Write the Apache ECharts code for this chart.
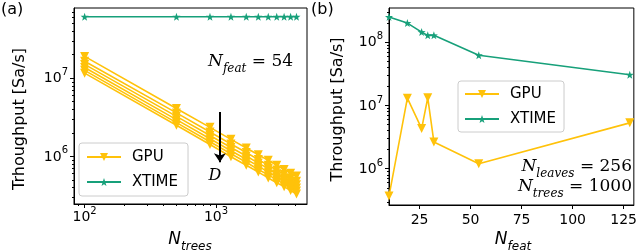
<!DOCTYPE html>
<html><head><meta charset="utf-8">
<script src="https://cdn.jsdelivr.net/npm/echarts@6/dist/echarts.min.js"></script>
<style>html,body{margin:0;padding:0;background:#fff}#c{width:640px;height:250px}</style>
</head><body><div id="c"></div>
<script>
// ---- data: panel (a) ----
const nTrees = [100, 500, 900, 1300, 1700, 2100, 2500, 2900, 3300, 3700, 4100];
const xtimeTrees = [6.1e7, 6.1e7, 6.1e7, 6.1e7, 6.1e7, 6.1e7, 6.1e7, 6.1e7, 6.1e7, 6.1e7, 6.1e7];
const gpuTreesD1 = [1.9e7, 4.1e6, 2.35e6, 1.65e6, 1.28e6, 1.05e6, 8.9e5, 7.7e5, 6.8e5, 6.1e5, 5.6e5];
const gpuTreesD2 = [1.65e7, 3.6e6, 2.05e6, 1.44e6, 1.12e6, 9.1e5, 7.7e5, 6.7e5, 5.9e5, 5.3e5, 4.8e5];
const gpuTreesD3 = [1.5e7, 3.25e6, 1.85e6, 1.3e6, 1.01e6, 8.2e5, 7.0e5, 6.0e5, 5.3e5, 4.8e5, 4.35e5];
const gpuTreesD4 = [1.37e7, 2.95e6, 1.68e6, 1.18e6, 9.2e5, 7.5e5, 6.3e5, 5.5e5, 4.85e5, 4.35e5, 3.95e5];
const gpuTreesD5 = [1.26e7, 2.7e6, 1.54e6, 1.08e6, 8.4e5, 6.8e5, 5.8e5, 5.0e5, 4.45e5, 4.0e5, 3.6e5];
const gpuTreesD6 = [1.16e7, 2.5e6, 1.42e6, 9.9e5, 7.7e5, 6.3e5, 5.3e5, 4.6e5, 4.1e5, 3.65e5, 3.3e5];
const xTicksA = [100, 1000];
const xMinorA = [90, 200, 300, 400, 500, 600, 700, 800, 900, 2000, 3000, 4000];
const yTicksA = [1e6, 1e7];
const yMinorA = [3e5, 4e5, 5e5, 6e5, 7e5, 8e5, 9e5, 2e6, 3e6, 4e6, 5e6, 6e6, 7e6, 8e6, 9e6, 2e7, 3e7, 4e7, 5e7, 6e7, 7e7];
// ---- data: panel (b) ----
const nFeat = [10, 19, 26, 29, 32, 54, 128];
const xtimeFeat = [2.5e8, 2.0e8, 1.44e8, 1.28e8, 1.28e8, 6.2e7, 3.05e7];
const gpuFeat = [3.7e5, 1.3e7, 4.3e6, 1.32e7, 2.65e6, 1.2e6, 5.3e6];
const xTicksB = [25, 50, 75, 100, 125];
const yTicksB = [1e6, 1e7, 1e8];
const yMinorB = [3e5, 4e5, 5e5, 6e5, 7e5, 8e5, 9e5, 2e6, 3e6, 4e6, 5e6, 6e6, 7e6, 8e6, 9e6, 2e7, 3e7, 4e7, 5e7, 6e7, 7e7, 8e7, 9e7, 2e8, 3e8];

const FONT = 'DejaVu Sans';
const SERIF = 'DejaVu Serif';
const GOLD = '#ffc20a';
const TEAL = '#17a07a';
const STAR = 'path://M0,-10L2.35,-3.24L9.51,-3.09L3.8,1.24L5.88,8.09L0,4L-5.88,8.09L-3.8,1.24L-9.51,-3.09L-2.35,-3.24Z';

const pairs = (xs, ys) => xs.map((x, i) => [x, ys[i]]);
const logLabel = (margin, ticks) => ({
  margin, customValues: ticks,
  formatter: v => '{b|10}{e|' + Math.round(Math.log10(v)) + '}',
  rich: {
    b: {fontSize: 14, fontFamily: FONT, color: '#000', lineHeight: 15, verticalAlign: 'bottom'},
    e: {fontSize: 10, fontFamily: FONT, color: '#000', lineHeight: 10, padding: [0, 0, 8, 0], verticalAlign: 'bottom'}
  }
});
const axLine = {show: true, lineStyle: {color: '#000', width: 1}};
function mainLog(gridIndex, min, max, ticks, margin, pos) {
  return {type: 'log', logBase: 10, gridIndex, min, max, position: pos,
    axisLine: axLine, splitLine: {show: false},
    axisTick: {show: true, inside: false, length: 4, customValues: ticks, lineStyle: {color: '#000'}},
    axisLabel: logLabel(margin, ticks)};
}
function minorLog(gridIndex, min, max, ticks, pos) {
  return {type: 'log', logBase: 10, gridIndex, min, max, position: pos,
    axisLine: {show: false}, splitLine: {show: false}, axisLabel: {show: false},
    axisTick: {show: true, inside: false, length: 2, customValues: ticks, lineStyle: {color: '#000'}}};
}
const lineStyleGpu = {color: GOLD, width: 1.6};
function gpuSeries(ys, xi, yi, extra) {
  return Object.assign({type: 'line', name: 'GPU', xAxisIndex: xi, yAxisIndex: yi,
    data: pairs(xi === 0 ? nTrees : nFeat, ys), symbol: 'triangle', symbolRotate: 180,
    symbolSize: 9, showAllSymbol: true, itemStyle: {color: GOLD}, lineStyle: lineStyleGpu,
    animation: false, silent: true, z: 3}, extra || {});
}
function xtimeSeries(xs, ys, xi, yi, extra) {
  return Object.assign({type: 'line', name: 'XTIME', xAxisIndex: xi, yAxisIndex: yi,
    data: pairs(xs, ys), symbol: STAR, symbolSize: 8, showAllSymbol: true,
    itemStyle: {color: TEAL}, lineStyle: {color: TEAL, width: 1.6},
    animation: false, silent: true, z: 3}, extra || {});
}
const legendBase = {orient: 'vertical', itemWidth: 34, itemHeight: 10, itemGap: 9,
  backgroundColor: 'rgba(255,255,255,0.8)', borderColor: '#cccccc', borderWidth: 1, borderRadius: 3,
  textStyle: {fontSize: 15, fontFamily: FONT, color: '#000', lineHeight: 16, padding: [0, 0, 0, 6]},
  data: ['GPU', 'XTIME'], selectedMode: false};

const subRich = (fam, big, small) => ({
  n: {fontSize: big, fontStyle: 'italic', fontFamily: fam, color: '#000', verticalAlign: 'top', lineHeight: 18},
  s: {fontSize: small, fontStyle: 'italic', fontFamily: fam, color: '#000', verticalAlign: 'top', lineHeight: 12, padding: [10, 0, 0, 0]},
  t: {fontSize: big, fontFamily: fam, color: '#000', verticalAlign: 'top', lineHeight: 18}
});
function txt(x, y, text, style, rot) {
  const st = Object.assign({text, fill: '#000', fontFamily: FONT}, style);
  if (st.align) { st.textAlign = st.align; }
  if (st.verticalAlign) { st.textVerticalAlign = st.verticalAlign; }
  const e = {type: 'text', x, y, style: st, silent: true};
  if (rot) e.rotation = rot;
  return e;
}

const option = {
  animation: false,
  grid: [
    {left: 74, right: 333, top: 8, bottom: 46, show: true, borderColor: '#000', borderWidth: 1, backgroundColor: 'transparent'},
    {left: 389, right: 5, top: 8, bottom: 45, show: true, borderColor: '#000', borderWidth: 1, backgroundColor: 'transparent'}
  ],
  xAxis: [
    mainLog(0, 83, 4930, xTicksA, 5, 'bottom'),
    minorLog(0, 83, 4930, xMinorA, 'bottom'),
    {type: 'value', gridIndex: 1, min: 10, max: 130, position: 'bottom',
      axisLine: axLine, splitLine: {show: false},
      axisTick: {show: true, inside: false, length: 4, customValues: xTicksB, lineStyle: {color: '#000'}},
      axisLabel: {customValues: xTicksB, margin: 8, fontSize: 14, fontFamily: FONT, color: '#000'}}
  ],
  yAxis: [
    mainLog(0, 2.46e5, 7.9e7, yTicksA, 6, 'left'),
    minorLog(0, 2.46e5, 7.9e7, yMinorA, 'left'),
    mainLog(1, 2.67e5, 3.46e8, yTicksB, 6, 'left'),
    minorLog(1, 2.67e5, 3.46e8, yMinorB, 'left')
  ],
  legend: [
    Object.assign({}, legendBase, {left: 79, top: 143, padding: [6, 10, 6, 7]}),
    Object.assign({}, legendBase, {left: 458, top: 81, padding: [5, 8, 5, 6]})
  ],
  series: [
    xtimeSeries(nTrees, xtimeTrees, 0, 0, {
      markLine: {silent: true, animation: false, symbol: ['none', 'arrow'], symbolSize: 9,
        label: {show: false}, lineStyle: {color: '#000', width: 2, type: 'solid'},
        data: [[{coord: [1070, 3.7e6]}, {coord: [1070, 8.4e5]}]]}
    }),
    gpuSeries(gpuTreesD1, 0, 0),
    gpuSeries(gpuTreesD2, 0, 0),
    gpuSeries(gpuTreesD3, 0, 0),
    gpuSeries(gpuTreesD4, 0, 0),
    gpuSeries(gpuTreesD5, 0, 0),
    gpuSeries(gpuTreesD6, 0, 0),
    gpuSeries(gpuFeat, 2, 2),
    xtimeSeries(nFeat, xtimeFeat, 2, 2)
  ],
  graphic: [
    txt(1, 2, '(a)', {fontSize: 16}),
    txt(311, 2, '(b)', {fontSize: 16}),
    txt(20, 119, 'Trhoughput [Sa/s]', {fontSize: 16, align: 'center', verticalAlign: 'middle'}, Math.PI / 2),
    txt(338, 109.5, 'Throughput [Sa/s]', {fontSize: 16, align: 'center', verticalAlign: 'middle'}, Math.PI / 2),
    txt(190, 240, '{n|N}{s|trees}', {rich: subRich(FONT, 17, 12), align: 'center', verticalAlign: 'middle'}),
    txt(513, 240, '{n|N}{s|feat}', {rich: subRich(FONT, 17, 12), align: 'center', verticalAlign: 'middle'}),
    txt(208, 53, '{n|N}{s|feat}{t| = 54}', {rich: subRich(SERIF, 17, 12), align: 'left', verticalAlign: 'top'}),
    txt(215, 176, 'D', {fontSize: 16, fontFamily: SERIF, fontStyle: 'italic', align: 'center', verticalAlign: 'middle'}),
    txt(632, 158, '{n|N}{s|leaves}{t| = 256}', {rich: subRich(SERIF, 17, 12), align: 'right', verticalAlign: 'top'}),
    txt(632, 178, '{n|N}{s|trees}{t| = 1000}', {rich: subRich(SERIF, 17, 12), align: 'right', verticalAlign: 'top'})
  ]
};
const chart = echarts.init(document.getElementById('c'), null, {renderer: 'canvas'});
chart.setOption(option);
</script></body></html>
